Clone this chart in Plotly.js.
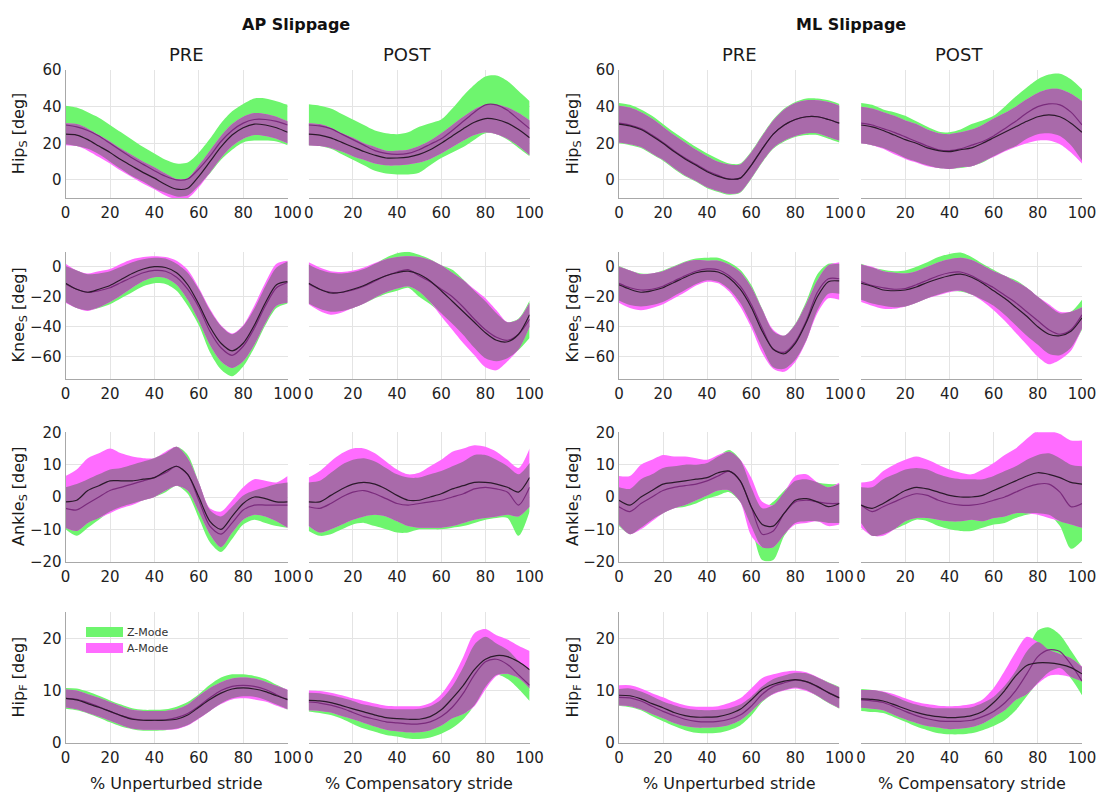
<!DOCTYPE html>
<html>
<head>
<meta charset="utf-8">
<script src="https://cdn.plot.ly/plotly-3.0.1.min.js"></script>
<style>html,body{margin:0;padding:0;background:#fff;}#chart{width:1098px;height:796px;}</style>
</head>
<body>
<div id="chart"></div>
<script>
// ---------------- DATA ----------------
const X = [0,5,10,15,20,25,30,35,40,45,50,55,60,65,70,75,80,85,90,95,100];
const X_TICKS = [0,20,40,60,80,100];
const GROUPS = ["AP Slippage","ML Slippage"];
const PHASES = ["PRE","POST"];
const X_TITLES = ["% Unperturbed stride","% Compensatory stride"];
const Y_TITLES = ["Hip<sub>S</sub> [deg]","Knee<sub>S</sub> [deg]","Ankle<sub>S</sub> [deg]","Hip<sub>F</sub> [deg]"];
const Y_RANGES = [[-10,60],[-75,10],[-20,20],[0,25]];
const Y_TICKS = [[0,20,40,60],[-60,-40,-20,0],[-20,-10,0,10,20],[0,10,20]];
const LEGEND_LABELS = ["Z-Mode","A-Mode"];

// Row 1: Hip sagittal
const AP_PRE_HIPS_Z_MEAN = [30,29,27,24,20,16,12,8.5,5,2,0,0.5,6,13,21,27,31,33,33,32,30];
const AP_PRE_HIPS_Z_SD   = [10.5,10.5,10,10,10,10,10,9.5,9.5,9,9,9,9,9.5,10,10.5,10.5,11.5,11.5,11,11];
const AP_PRE_HIPS_A_MEAN = [25,24.5,22,18.5,15,11,7.5,4,1,-2.5,-5,-4.5,2,10,18,24.5,28.5,30.5,30,28.5,26];
const AP_PRE_HIPS_A_SD   = [6,6,6,6,6,6,6,6,6,6,5.5,5.5,6,6,6,6,6,6,6,6,6];

const AP_POST_HIPS_Z_MEAN = [30,29.5,28,25,22,19,16,14.5,14,14.5,16.5,19.5,22.5,27,32,37,41,41,38,33,28];
const AP_POST_HIPS_Z_SD   = [11.25,11,11,11,11,11,11,11,11,11.5,12.5,11.5,10.5,12,14,15,15.5,16,16,15.5,15];
const AP_POST_HIPS_A_MEAN = [25,24.5,23,20.5,18,15.5,13.5,12,12,12.5,14,16.5,20,24,28,31.5,33.5,33,31,27.5,23];
const AP_POST_HIPS_A_SD   = [6,6,5.5,5,5,4.5,4.5,4,4,4,4.5,5,5.5,6,6.5,7,7.5,8,8.5,9,9.5];

const ML_PRE_HIPS_Z_MEAN = [31,30,28,24.5,20.5,16,12,8.5,5,2.5,0.5,1,8,17,25,30,33,34.5,34.5,33,31];
const ML_PRE_HIPS_Z_SD   = [11,11,10.5,10.5,10,10,10,9.5,9.5,9,8.5,8,7.5,7.5,8,9,9.5,10,10,10.5,10.5];
const ML_PRE_HIPS_A_MEAN = [30.5,29.5,27.5,24,20,15.5,11.5,8,4.5,2,0.5,1,8,17,25,30,33,34.5,34.5,33,31];
const ML_PRE_HIPS_A_SD   = [10,10,9.5,9.5,9,9,9,8.5,8.5,8,8,7.5,7,7,7.5,8.5,9,9,9,9.5,9.5];

const ML_POST_HIPS_Z_MEAN = [31,30,28,26,23.5,21,18.5,16.5,16,17,19,21,24,28,32,36.5,40,41.5,41,37,30];
const ML_POST_HIPS_Z_SD   = [11,11,10.5,11,11.5,11,10.5,10,10,10.5,11.5,11.5,11,12,13.5,14,15,16,17,18,19.5];
const ML_POST_HIPS_A_MEAN = [30,29,27,24.5,22,20,17.5,16,15.5,16.5,17.5,20,23,26,29,32,34.5,35.5,34.5,31,26];
const ML_POST_HIPS_A_SD   = [10,10,10,10.5,10.5,10.5,10,9.5,9.5,9.5,10,10,10.5,10.5,11,12,13,14,15,16,17];

// Row 2: Knee sagittal
const AP_PRE_KNEE_Z_MEAN = [-11.5,-15,-17,-16,-14,-10.5,-7,-4,-2.5,-3,-7,-15,-27,-43,-54,-59,-53,-41,-26,-14,-10.5];
const AP_PRE_KNEE_Z_SD   = [12,12.5,12,11.5,11,10.5,10,9,8.5,8.5,9,11,12,14,14.5,14,13.5,13,13,13.5,14];
const AP_PRE_KNEE_A_MEAN = [-11,-15,-17,-15,-12.5,-8.5,-4.5,-1.5,0,-0.5,-4,-12,-25,-40,-51,-56,-51,-39,-24,-12,-10];
const AP_PRE_KNEE_A_SD   = [13,12.5,12.5,12,11,10.5,9.5,8,7,7,8,10,11,12,12,11.5,12,13,13.5,14,14];

const AP_POST_KNEE_Z_MEAN = [-11.5,-15,-17,-17,-15.5,-13,-9.5,-6,-3.5,-2,-6,-10,-15,-20,-27,-35,-42,-47,-49,-45,-35];
const AP_POST_KNEE_Z_SD   = [13,13,13,12.5,12,11.5,11.5,12,12.5,12,14,15,16,18,18.5,19,19,16,12,10.5,12.5];
const AP_POST_KNEE_A_MEAN = [-11,-15,-17.5,-17,-15,-12.5,-9,-6,-4,-3,-5,-9.5,-16,-23,-30,-37,-44,-49,-50,-45,-32];
const AP_POST_KNEE_A_SD   = [14,14.5,14.5,13.5,12.5,12,11.5,11,10.5,10,11.5,14,17,19,21,22,23,20,13,10,8];

const ML_PRE_KNEE_Z_MEAN = [-11,-14,-15.5,-15,-13,-9.5,-6,-3,-1.5,-2,-6,-13,-25,-41,-55,-57,-50,-36,-17,-8,-8];
const ML_PRE_KNEE_Z_SD   = [11.5,11.5,11,10.5,10.5,10,9.5,8.5,7.5,8,9,11,13,13,12,11,12,13,12,10,10];
const ML_PRE_KNEE_A_MEAN = [-12,-15,-17,-16,-14,-10.5,-7,-4,-3,-3.5,-7.5,-15,-27,-43,-55,-58,-51,-37,-20,-10,-9.5];
const ML_PRE_KNEE_A_SD   = [12,12.5,12,11.5,11,10.5,10,8.5,7,7.5,9,11.5,13.5,14.5,13,12,12.5,12.5,11,11,12.5];

const ML_POST_KNEE_Z_MEAN = [-10,-12.5,-14,-15,-14.5,-12,-9,-6,-4,-3.5,-6,-10,-14,-19,-24,-30,-36,-42,-45,-42,-32];
const ML_POST_KNEE_Z_SD   = [12,12,12,12,12,12,12,12.5,12.5,13,12.5,12,12,13,15,16,16,16,14,12,10];
const ML_POST_KNEE_A_MEAN = [-11,-13,-15.5,-16,-15.5,-13.5,-10.5,-8,-6,-5,-7,-11,-16,-21,-27,-33,-40,-45,-46,-43,-34];
const ML_POST_KNEE_A_SD   = [12.5,13,12.5,12,11,10.5,10.5,11,11,11,11.5,12,13,15,17,19,20,20,16,13,7];

// Row 3: Ankle sagittal
const AP_PRE_ANKLE_Z_MEAN = [-3.5,-4,-2,0,2,3,4,5,6,7.5,9.5,7,-1,-9,-11.5,-8,-4,-2.5,-2.5,-2.5,-2.5];
const AP_PRE_ANKLE_Z_SD   = [6.5,8,7.5,7,6.5,6,6,6,6,6,6,6,5.5,5,5.5,5,4.5,4.5,5.5,6.5,7];
const AP_PRE_ANKLE_A_MEAN = [-1.5,-1,2,3.5,5,5,5,5.5,6,8,9.5,7,0,-7.5,-10,-6,-2,0,-0.5,-1.5,-1.5];
const AP_PRE_ANKLE_A_SD   = [8,9.5,10,10,10,8.5,7.5,6.5,6,6,6,5,4.5,4,5.5,5,5,5.5,5.5,6,8];

const AP_POST_ANKLE_Z_MEAN = [-3,-3.5,-2,0,1.5,2,1,-0.5,-2,-2.5,-2,-1.5,-1,0,1,2.5,3,2.5,1.5,-2.5,3];
const AP_POST_ANKLE_Z_SD   = [7.5,8.5,9.5,10,10,10,10,9.5,9,8.5,8,8.5,9,9.5,10,10.5,10,9,8,9.5,7.5];
const AP_POST_ANKLE_A_MEAN = [-1.5,-1.5,0.5,2.5,4,4.5,4,2.5,0.5,-1,-1,0,1,2.5,3.5,4.5,4.5,4,3,1.5,6];
const AP_POST_ANKLE_A_SD   = [7.5,9.5,10.5,11,11,10.5,9.5,8.5,8,8,8.5,9.5,10.5,11.5,11.5,11.5,11,10,8.5,7.5,9];

const ML_PRE_ANKLE_Z_MEAN = [-3,-4.5,-2,0,2,3,3.5,4,5,6.5,8,5,-3,-11.5,-10.5,-5,-1.5,-1,-1.5,-2,-2];
const ML_PRE_ANKLE_Z_SD   = [6,7,7.5,7,7,6.5,6.5,6,5.5,6,6.5,6.5,6,8,9,7,6.5,6.5,6,6,6];
const ML_PRE_ANKLE_A_MEAN = [-1,-2.5,0,2,4,4.5,5,5.5,6,7.5,8,5,-3,-8.5,-9,-5,-1,-0.5,-1.5,-3,-2];
const ML_PRE_ANKLE_A_SD   = [7.5,9,10,9.5,9,8,7.5,6.5,5.5,5.5,6,6.5,9,7,6.5,6.5,7.5,7.5,6,6,6.5];

const ML_POST_ANKLE_Z_MEAN = [-2.5,-4.5,-3,-1.5,0,1,0.5,-1,-2,-2.5,-2.5,-2,-1,0,1.5,3,4,4,1.5,-3,-2];
const ML_POST_ANKLE_Z_SD   = [5.5,7.5,8.5,8.5,8.5,8,8,8,8,8,8,7.5,7.5,8,8,8.5,9,9.5,10.5,13,11.5];
const ML_POST_ANKLE_A_MEAN = [-2.5,-3.5,-2,0,2,3,2.5,1.5,0.5,0,0,0.5,2,3.5,5,6.5,7.5,7,6,4.5,4];
const ML_POST_ANKLE_A_SD   = [7,8.5,10,10,9.5,9.5,9,8.5,8,7.5,7,8,8.5,9.5,10,11.5,13,13.5,13.5,13,13.5];

// Row 4: Hip frontal
const AP_PRE_HIPF_Z_MEAN = [8.5,8.3,7.7,6.9,6,5.2,4.6,4.3,4.3,4.4,4.8,5.6,7,8.6,10,10.8,11,10.8,10.2,9.2,8.2];
const AP_PRE_HIPF_Z_SD   = [2,2.1,2.1,2.1,2.1,2.1,2,2,2,2,2.1,2.2,2.3,2.5,2.5,2.3,2.1,2,2,1.9,1.9];
const AP_PRE_HIPF_A_MEAN = [8.5,8.2,7.5,6.8,6,5.2,4.5,4.3,4.3,4.3,4.5,5.3,6.8,8.3,9.5,10.3,10.5,10.3,9.8,9,8.3];
const AP_PRE_HIPF_A_SD   = [1.7,1.8,1.8,1.8,1.8,1.8,1.8,1.8,1.8,1.8,1.9,2,2.2,2.2,2.1,2,2,2,1.9,1.9,1.9];

const AP_POST_HIPF_Z_MEAN = [7.8,7.6,7.2,6.6,5.8,5,4.5,4,3.8,3.6,3.6,4,5,6.8,9.5,13,15.5,16,15,13,11];
const AP_POST_HIPF_Z_SD   = [1.8,1.9,1.9,2,2.2,2.3,2.4,2.5,2.6,2.8,2.9,3,3.3,4,5,5.8,4.8,3,2.8,2.7,3];
const AP_POST_HIPF_A_MEAN = [8.1,8,7.7,7.1,6.5,5.9,5.3,4.8,4.6,4.5,4.5,5,6.3,8.5,11,14,16,16.7,16.5,15.5,14];
const AP_POST_HIPF_A_SD   = [1.9,1.9,1.9,2,2,2.1,2.2,2.3,2.4,2.5,2.5,2.6,3,3.8,5.5,7,5.8,3.9,3.3,3.1,3.6];

const ML_PRE_HIPF_Z_MEAN = [8.7,8.6,8,7,6,5.2,4.5,4.1,4,4.1,4.5,5.3,7,9.3,10.8,11.5,12,11.7,10.7,9.6,8.6];
const ML_PRE_HIPF_Z_SD   = [1.6,1.8,1.8,1.9,1.9,2,2.1,2.2,2.2,2.2,2.1,2,1.8,1.5,1.4,1.4,1.4,1.6,1.8,2,2.1];
const ML_PRE_HIPF_A_MEAN = [9.1,9,8.4,7.5,6.7,5.8,5.2,4.9,4.9,5,5.5,6.4,8.2,10.2,11.2,11.8,12.1,11.7,10.8,9.6,8.6];
const ML_PRE_HIPF_A_SD   = [1.9,2,2,2,2,2,2,2,2,2,2.1,2.1,2.2,2.2,1.9,1.8,1.7,1.8,1.8,1.9,2];

const ML_POST_HIPF_Z_MEAN = [8.2,8,7.7,6.9,6,5.2,4.6,4.2,4.1,4.1,4.3,5,6,7.6,10,13.2,16.5,17.8,17.5,15,11.8];
const ML_POST_HIPF_Z_SD   = [2.1,2.1,2,2,2,2.1,2.2,2.4,2.5,2.5,2.5,2.6,2.8,3.3,3.8,4.3,5,4.3,3.2,2.7,2.7];
const ML_POST_HIPF_A_MEAN = [8.4,8.3,8,7.3,6.5,5.8,5.3,5,4.8,4.9,5.2,6,7.7,10,12.8,14.8,15.3,15.3,15,14.4,13.2];
const ML_POST_HIPF_A_SD   = [1.7,1.8,1.8,2,2,2,2.1,2.1,2.2,2.2,2.2,2.3,2.8,3.8,4.6,5.5,4,2.5,2,1.8,1.4];

// ---------------- BUILD ----------------
const W = 1098, H = 796;
const COLS_PX = [[65.6,287.6],[308.7,529.6],[618.9,839.4],[861.1,1082]];
const ROWS_PX = [[70,198.3],[251.7,379.3],[432.3,561.7],[612.3,742.7]];
const GREEN = '#6ef56e', MAGENTA = '#ff6cff', PURPLE = '#a96aaa';
const LINE_Z = '#7a2b7c', LINE_A = '#2b1a2b';
const FONT = 'DejaVu Sans, Arial, sans-serif';
const px = x => x / W, py = y => 1 - y / H;

// panels listed row by row, columns: AP PRE, AP POST, ML PRE, ML POST
const PANELS = [
  [AP_PRE_HIPS_Z_MEAN,AP_PRE_HIPS_Z_SD,AP_PRE_HIPS_A_MEAN,AP_PRE_HIPS_A_SD],
  [AP_POST_HIPS_Z_MEAN,AP_POST_HIPS_Z_SD,AP_POST_HIPS_A_MEAN,AP_POST_HIPS_A_SD],
  [ML_PRE_HIPS_Z_MEAN,ML_PRE_HIPS_Z_SD,ML_PRE_HIPS_A_MEAN,ML_PRE_HIPS_A_SD],
  [ML_POST_HIPS_Z_MEAN,ML_POST_HIPS_Z_SD,ML_POST_HIPS_A_MEAN,ML_POST_HIPS_A_SD],
  [AP_PRE_KNEE_Z_MEAN,AP_PRE_KNEE_Z_SD,AP_PRE_KNEE_A_MEAN,AP_PRE_KNEE_A_SD],
  [AP_POST_KNEE_Z_MEAN,AP_POST_KNEE_Z_SD,AP_POST_KNEE_A_MEAN,AP_POST_KNEE_A_SD],
  [ML_PRE_KNEE_Z_MEAN,ML_PRE_KNEE_Z_SD,ML_PRE_KNEE_A_MEAN,ML_PRE_KNEE_A_SD],
  [ML_POST_KNEE_Z_MEAN,ML_POST_KNEE_Z_SD,ML_POST_KNEE_A_MEAN,ML_POST_KNEE_A_SD],
  [AP_PRE_ANKLE_Z_MEAN,AP_PRE_ANKLE_Z_SD,AP_PRE_ANKLE_A_MEAN,AP_PRE_ANKLE_A_SD],
  [AP_POST_ANKLE_Z_MEAN,AP_POST_ANKLE_Z_SD,AP_POST_ANKLE_A_MEAN,AP_POST_ANKLE_A_SD],
  [ML_PRE_ANKLE_Z_MEAN,ML_PRE_ANKLE_Z_SD,ML_PRE_ANKLE_A_MEAN,ML_PRE_ANKLE_A_SD],
  [ML_POST_ANKLE_Z_MEAN,ML_POST_ANKLE_Z_SD,ML_POST_ANKLE_A_MEAN,ML_POST_ANKLE_A_SD],
  [AP_PRE_HIPF_Z_MEAN,AP_PRE_HIPF_Z_SD,AP_PRE_HIPF_A_MEAN,AP_PRE_HIPF_A_SD],
  [AP_POST_HIPF_Z_MEAN,AP_POST_HIPF_Z_SD,AP_POST_HIPF_A_MEAN,AP_POST_HIPF_A_SD],
  [ML_PRE_HIPF_Z_MEAN,ML_PRE_HIPF_Z_SD,ML_PRE_HIPF_A_MEAN,ML_PRE_HIPF_A_SD],
  [ML_POST_HIPF_Z_MEAN,ML_POST_HIPF_Z_SD,ML_POST_HIPF_A_MEAN,ML_POST_HIPF_A_SD]
];

const traces = [];
const layout = {
  width: W, height: H, margin: {l:0,r:0,t:0,b:0},
  paper_bgcolor: '#fff', plot_bgcolor: '#fff', showlegend: false,
  font: {family: FONT, color: '#222'},
  annotations: [], shapes: []
};

PANELS.forEach((p, i) => {
  const row = Math.floor(i / 4), col = i % 4;
  const n = i + 1, xa = 'x' + (n === 1 ? '' : n), ya = 'y' + (n === 1 ? '' : n);
  const [zm, zs, am, as] = p;
  const zLo = zm.map((v,k) => v - zs[k]), zHi = zm.map((v,k) => v + zs[k]);
  const aLo = am.map((v,k) => v - as[k]), aHi = am.map((v,k) => v + as[k]);
  const oLo = zLo.map((v,k) => Math.max(v, aLo[k]));
  const oHi = zHi.map((v,k) => Math.max(Math.min(v, aHi[k]), oLo[k]));
  const base = {x: X, xaxis: xa, yaxis: ya, mode: 'lines', hoverinfo: 'skip', showlegend: false};
  const edge = {width: 0, shape: 'spline', smoothing: 0.8};
  [[zLo, zHi, GREEN], [aLo, aHi, MAGENTA], [oLo, oHi, PURPLE]].forEach(([lo, hi, c]) => {
    traces.push(Object.assign({}, base, {y: lo, line: edge}));
    traces.push(Object.assign({}, base, {y: hi, line: edge, fill: 'tonexty', fillcolor: c}));
  });
  traces.push(Object.assign({}, base, {y: zm, line: {color: LINE_Z, width: 1.2, shape: 'spline', smoothing: 0.8}}));
  traces.push(Object.assign({}, base, {y: am, line: {color: LINE_A, width: 1.2, shape: 'spline', smoothing: 0.8}}));

  const cx = COLS_PX[col], ry = ROWS_PX[row];
  const leftCol = (col === 0 || col === 2);
  layout['xaxis' + (n === 1 ? '' : n)] = {
    domain: [px(cx[0]), px(cx[1])], anchor: ya, range: [0, 100],
    tickmode: 'array', tickvals: X_TICKS, ticks: '', ticklabelstandoff: 1,
    showgrid: true, gridcolor: '#e4e4e4', gridwidth: 1, zeroline: false,
    showline: true, linecolor: '#a8a8a8', linewidth: 1,
    tickfont: {size: 15, color: '#222', family: FONT}, fixedrange: true
  };
  layout['yaxis' + (n === 1 ? '' : n)] = {
    domain: [py(ry[1]), py(ry[0])], anchor: xa, range: Y_RANGES[row],
    tickmode: 'array', tickvals: Y_TICKS[row], ticks: '', ticklabelstandoff: 0,
    showticklabels: leftCol, showgrid: true, gridcolor: '#e4e4e4', gridwidth: 1, zeroline: false,
    showline: leftCol, linecolor: '#a8a8a8', linewidth: 1,
    tickfont: {size: 15, color: '#222', family: FONT}, fixedrange: true
  };
});

function ann(text, x, y, opts) {
  layout.annotations.push(Object.assign({
    text, x: px(x), y: py(y), xref: 'paper', yref: 'paper', showarrow: false,
    xanchor: 'center', yanchor: 'middle', font: {size: 16, color: '#1a1a1a', family: FONT}
  }, opts || {}));
}

// group and phase titles
ann('<b>' + GROUPS[0] + '</b>', 296, 25, {font: {size: 16, color: '#111', family: FONT}});
ann('<b>' + GROUPS[1] + '</b>', 851, 25, {font: {size: 16, color: '#111', family: FONT}});
[186, 407, 739, 959].forEach((x, k) => ann(PHASES[k % 2], x, 54, {font: {size: 18, color: '#1a1a1a', family: FONT}}));

// y-axis titles
ROWS_PX.forEach((ry, r) => {
  const yc = (ry[0] + ry[1]) / 2;
  ann(Y_TITLES[r], 19, yc, {textangle: -90});
  ann(Y_TITLES[r], 573, yc, {textangle: -90});
});

// x-axis titles
ann(X_TITLES[0], 176.6, 783); ann(X_TITLES[1], 419, 783);
ann(X_TITLES[0], 729, 783); ann(X_TITLES[1], 971.5, 783);

// legend (AP PRE, bottom row)
[[GREEN, 627, 637], [MAGENTA, 643, 653]].forEach(([c, y0, y1], k) => {
  layout.shapes.push({type: 'rect', xref: 'paper', yref: 'paper', x0: px(86), x1: px(123), y0: py(y1), y1: py(y0), fillcolor: c, line: {width: 0}});
  ann(LEGEND_LABELS[k], 125, (y0 + y1) / 2, {xanchor: 'left', font: {size: 11, color: '#333', family: FONT}});
});

Plotly.newPlot('chart', traces, layout, {staticPlot: true, displayModeBar: false});
</script>
</body>
</html>
